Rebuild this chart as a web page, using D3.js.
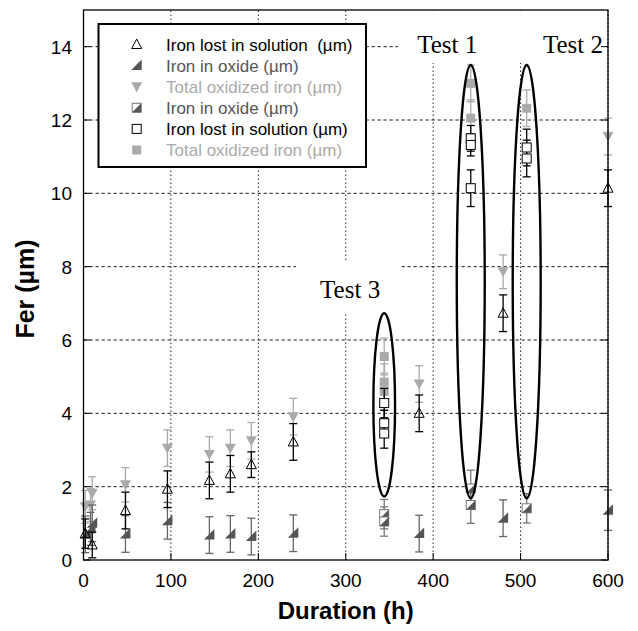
<!DOCTYPE html>
<html>
<head>
<meta charset="utf-8">
<script src="https://cdn.jsdelivr.net/npm/d3@7/dist/d3.min.js"></script>
<style>
body { margin: 0; background: #fff; }
text { font-family: "Liberation Sans", Arial, sans-serif; }
</style>
</head>
<body>
<div id="chart"></div>
<script>
// axis ticks
var xTicks = [0, 100, 200, 300, 400, 500, 600];
var yTicks = [0, 2, 4, 6, 8, 10, 12, 14];

// long-duration series (h, um, +/- um)
var solHours  = [2, 10, 48, 96, 144, 168, 192, 240, 384, 480, 600];
var solValues = [0.72, 0.41, 1.35, 1.93, 2.17, 2.35, 2.6, 3.22, 4.0, 6.73, 10.14];
var solErr    = [0.4, 0.35, 0.5, 0.5, 0.5, 0.5, 0.35, 0.5, 0.5, 0.5, 0.5];

var oxHours  = [2, 8, 10, 48, 96, 144, 168, 192, 240, 384, 480, 600];
var oxValues = [0.7, 0.85, 1.0, 0.71, 1.07, 0.68, 0.71, 0.64, 0.73, 0.72, 1.14, 1.36];
var oxErr    = [0.5, 0.45, 0.5, 0.5, 0.5, 0.5, 0.5, 0.5, 0.5, 0.5, 0.5, 0.55];

var totHours  = [2, 8, 10, 48, 96, 144, 168, 192, 240, 384, 480, 600];
var totValues = [1.45, 1.5, 1.82, 2.05, 3.05, 2.88, 3.05, 3.25, 3.91, 4.8, 7.86, 11.55];
var totErr    = [0.45, 0.45, 0.45, 0.47, 0.5, 0.48, 0.5, 0.5, 0.5, 0.5, 0.46, 0.5];

// test series
var tOxHours  = [344, 344, 443, 443, 507];
var tOxValues = [1.25, 1.05, 1.95, 1.5, 1.41];
var tOxErr    = [0.4, 0.4, 0.5, 0.5, 0.4];

var tSolHours  = [344, 344, 344, 443, 443, 443, 507, 507];
var tSolValues = [4.28, 3.73, 3.45, 11.5, 11.32, 10.14, 11.25, 10.95];
var tSolErr    = [0.4, 0.35, 0.4, 0.35, 0.3, 0.5, 0.5, 0.5];

var tTotHours  = [344, 344, 344, 443, 443, 507];
var tTotValues = [5.55, 4.85, 4.6, 13.0, 12.05, 12.32];
var tTotErr    = [0.5, 0.5, 0.5, 0.5, 0.5, 0.5];

// test groupings (ellipses) and their labels
var testNames  = ["Test 1", "Test 2", "Test 3"];
var testCenter = [443, 507, 344];
var testHalfW  = [16, 16, 12.4];
var testLow    = [1.68, 1.68, 1.73];
var testHigh   = [13.5, 13.5, 6.73];
var labelHour  = [416, 560, 305];
var labelValue = [13.82, 13.82, 7.14];

var legendNames = ["Iron lost in solution  (\u00b5m)", "Iron in oxide (\u00b5m)", "Total oxidized iron (\u00b5m)",
  "Iron in oxide (\u00b5m)", "Iron lost in solution (\u00b5m)", "Total oxidized iron (\u00b5m)"];
var legendSymbols = ["triUp", "triRight", "triDown", "halfSq", "openSq", "graySq"];
var legendColors = ["#000", "#555", "#aaa", "#555", "#000", "#aaa"];

var W = 638, H = 631;
var svg = d3.select("#chart").append("svg").attr("width", W).attr("height", H);

var x = d3.scaleLinear().domain([0, 600]).range([83.5, 608]);
var y = d3.scaleLinear().domain([0, 15]).range([560, 10]);

// grid
var grid = svg.append("g");
grid.selectAll("line.h").data(yTicks.slice(1)).enter().append("line")
  .attr("x1", x(0)).attr("x2", x(600))
  .attr("y1", function(d){ return y(d); }).attr("y2", function(d){ return y(d); })
  .style("stroke", "#222").style("stroke-width", 1).style("stroke-dasharray", "3.3,2.7");
grid.selectAll("line.v").data(xTicks.slice(1)).enter().append("line")
  .attr("y1", y(0)).attr("y2", y(15))
  .attr("x1", function(d){ return x(d); }).attr("x2", function(d){ return x(d); })
  .style("stroke", "#222").style("stroke-width", 1).style("stroke-dasharray", "1.5,2.5");

// white boxes behind labels
svg.append("rect").attr("x", 398).attr("y", 11).attr("width", 107).attr("height", 52).style("fill", "#fff");
svg.append("rect").attr("x", 505).attr("y", 11).attr("width", 101).attr("height", 52).style("fill", "#fff");
svg.append("rect").attr("x", 296).attr("y", 262).attr("width", 104).attr("height", 51).style("fill", "#fff");

// legend
var legend = svg.append("g");
legend.append("rect").attr("x", 98.5).attr("y", 24).attr("width", 267.5).attr("height", 143)
  .style("fill", "#fff").style("stroke", "#000").style("stroke-width", 2);

function drawSymbol(g, type, cx, cy) {
  var s = 4.5;
  if (type == "triUp") {
    g.append("path").attr("d", "M" + cx + "," + (cy - 5.5) + "L" + (cx + 5) + "," + (cy + 4) + "L" + (cx - 5) + "," + (cy + 4) + "Z")
      .style("fill", "none").style("stroke", "#000").style("stroke-width", 1);
  } else if (type == "triRight") {
    g.append("path").attr("d", "M" + (cx - 5.5) + "," + (cy + 4.5) + "L" + (cx + 5) + "," + (cy + 4.5) + "L" + (cx + 5) + "," + (cy - 6) + "Z")
      .style("fill", "#555");
  } else if (type == "triDown") {
    g.append("path").attr("d", "M" + (cx - 5.5) + "," + (cy - 4.5) + "L" + (cx + 5.5) + "," + (cy - 4.5) + "L" + cx + "," + (cy + 5.5) + "Z")
      .style("fill", "#aaa");
  } else if (type == "halfSq") {
    g.append("rect").attr("x", cx - s).attr("y", cy - s).attr("width", 2 * s).attr("height", 2 * s)
      .style("fill", "#fff").style("stroke", "#777").style("stroke-width", 1);
    g.append("path").attr("d", "M" + (cx - s) + "," + (cy + s) + "L" + (cx + s) + "," + (cy + s) + "L" + (cx + s) + "," + (cy - s) + "Z")
      .style("fill", "#555");
  } else if (type == "openSq") {
    g.append("rect").attr("x", cx - s).attr("y", cy - s).attr("width", 2 * s).attr("height", 2 * s)
      .style("fill", "#fff").style("stroke", "#000").style("stroke-width", 1);
  } else if (type == "graySq") {
    g.append("rect").attr("x", cx - s).attr("y", cy - s).attr("width", 2 * s).attr("height", 2 * s)
      .style("fill", "#aaa");
  }
}

legendNames.forEach(function(name, i){
  var cy = 44.5 + i * 21.1;
  drawSymbol(legend, legendSymbols[i], 136.7, cy);
  legend.append("text").attr("x", 166).attr("y", cy + 6).attr("xml:space", "preserve")
    .style("white-space", "pre").style("font-size", "17px")
    .style("fill", legendColors[i]).text(name);
});

// data series
function drawSeries(hours, values, errs, type, errColor) {
  var g = svg.append("g");
  hours.forEach(function(h, i){
    var cx = x(h), lo = y(values[i] - errs[i]), hi = y(values[i] + errs[i]);
    g.append("line").attr("x1", cx).attr("x2", cx).attr("y1", lo).attr("y2", hi)
      .style("stroke", errColor).style("stroke-width", 1.3);
    [lo, hi].forEach(function(yy){
      g.append("line").attr("x1", cx - 4).attr("x2", cx + 4).attr("y1", yy).attr("y2", yy)
        .style("stroke", errColor).style("stroke-width", 1.3);
    });
  });
  hours.forEach(function(h, i){
    drawSymbol(g, type, x(h), y(values[i]));
  });
}

drawSeries(totHours, totValues, totErr, "triDown", "#aaa");
drawSeries(tTotHours, tTotValues, tTotErr, "graySq", "#aaa");
drawSeries(oxHours, oxValues, oxErr, "triRight", "#666");
drawSeries(tOxHours, tOxValues, tOxErr, "halfSq", "#777");
drawSeries(solHours, solValues, solErr, "triUp", "#000");
drawSeries(tSolHours, tSolValues, tSolErr, "openSq", "#000");

// test ellipses
testNames.forEach(function(name, i){
  svg.append("ellipse")
    .attr("cx", x(testCenter[i]))
    .attr("cy", (y(testLow[i]) + y(testHigh[i])) / 2)
    .attr("rx", x(testCenter[i] + testHalfW[i]) - x(testCenter[i]))
    .attr("ry", (y(testLow[i]) - y(testHigh[i])) / 2)
    .style("fill", "none").style("stroke", "#000").style("stroke-width", 2.4);
  svg.append("text").attr("x", x(labelHour[i])).attr("y", y(labelValue[i]))
    .attr("text-anchor", "middle")
    .style("font-family", "'Liberation Serif', 'Times New Roman', serif")
    .style("font-size", "25px").text(name);
});

// frame and ticks
svg.append("rect").attr("x", x(0)).attr("y", y(15)).attr("width", x(600) - x(0)).attr("height", y(0) - y(15))
  .style("fill", "none").style("stroke", "#000").style("stroke-width", 1.3);

var axisG = svg.append("g");
yTicks.forEach(function(t){
  axisG.append("line").attr("x1", x(0)).attr("x2", x(0) + 7).attr("y1", y(t)).attr("y2", y(t)).style("stroke", "#000");
  axisG.append("line").attr("x1", x(600) - 7).attr("x2", x(600)).attr("y1", y(t)).attr("y2", y(t)).style("stroke", "#000");
  axisG.append("text").attr("x", 72).attr("y", y(t)).attr("dy", "0.36em").attr("text-anchor", "end")
    .style("font-size", "19px").text(t);
});
xTicks.forEach(function(t){
  axisG.append("line").attr("x1", x(t)).attr("x2", x(t)).attr("y1", y(0)).attr("y2", y(0) - 7).style("stroke", "#000");
  axisG.append("text").attr("x", x(t)).attr("y", 587).attr("text-anchor", "middle")
    .style("font-size", "19px").text(t);
});

svg.append("text").attr("x", x(300)).attr("y", 619).attr("text-anchor", "middle")
  .style("font-size", "24px").style("font-weight", "bold").text("Duration (h)");
svg.append("text").attr("transform", "translate(34," + 289 + ") rotate(-90)").attr("text-anchor", "middle")
  .style("font-size", "25px").style("font-weight", "bold").text("Fer (\u00b5m)");
</script>
</body>
</html>
